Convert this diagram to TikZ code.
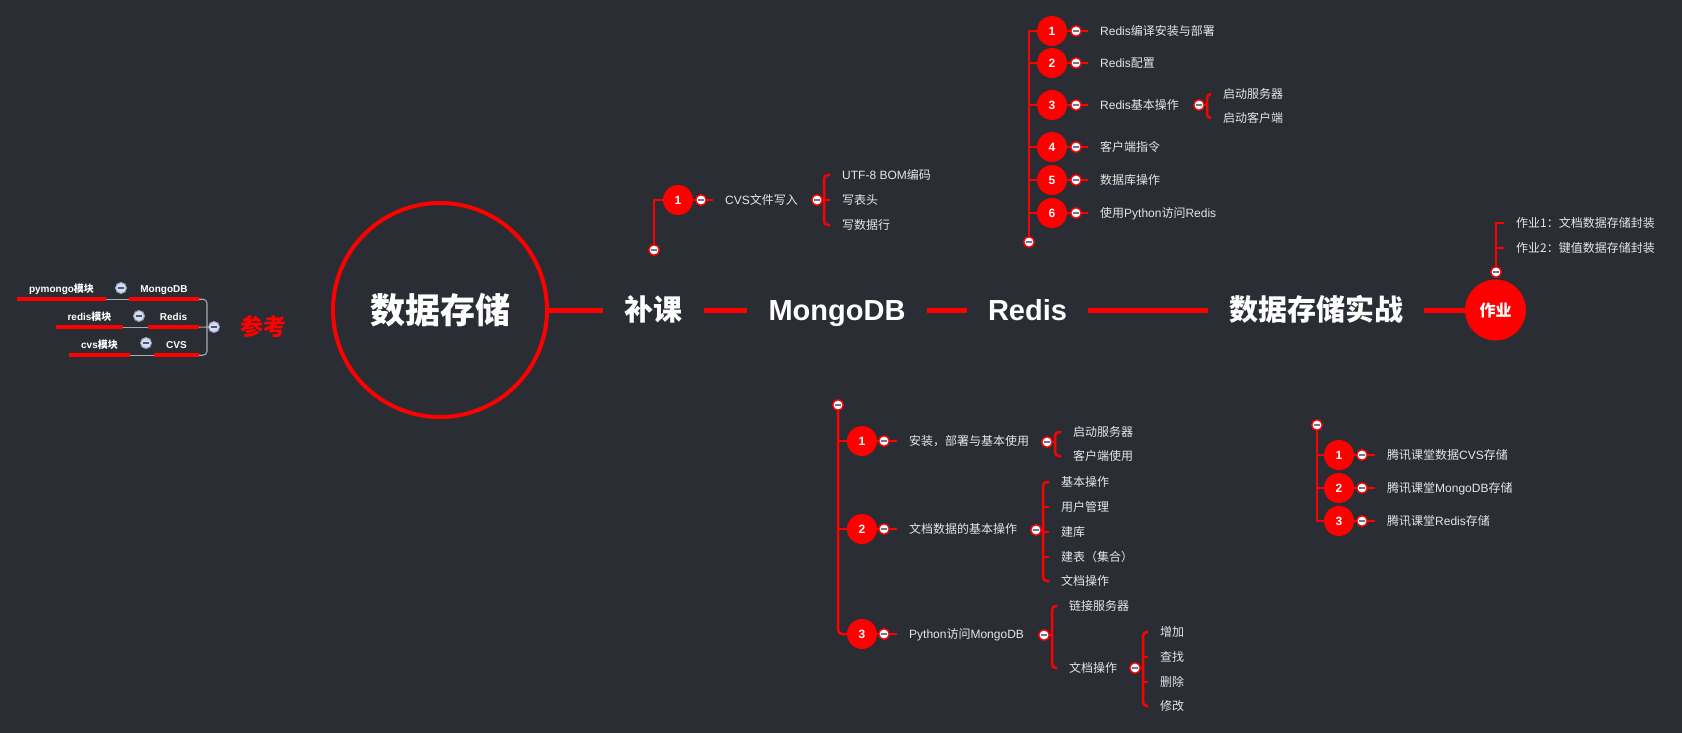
\documentclass[tikz,border=0pt]{standalone}
\usepackage{fontspec}
\setmainfont{Liberation Sans}
\newfontfamily\cjk{Noto Sans CJK SC}
\newcommand\zh[1]{{\cjk #1}}
\definecolor{bg}{RGB}{42,45,51}
\definecolor{mred}{RGB}{255,0,0}
\definecolor{txt}{RGB}{230,230,230}
\definecolor{foldminus}{RGB}{110,120,150}
\definecolor{gfill}{RGB}{214,222,240}
\definecolor{gdraw}{RGB}{150,158,180}
\definecolor{gminus}{RGB}{70,85,130}
\definecolor{glink}{RGB}{170,170,170}
\tikzset{
 fold/.style={circle, draw=mred, fill=white, line width=1.4pt, minimum size=10.5pt, inner sep=0pt,
   path picture={\draw[line width=1.1pt, foldminus] ([xshift=-2.6pt]path picture bounding box.center) -- ([xshift=2.6pt]path picture bounding box.center);}},
 greyfold/.style={circle, draw=gdraw, fill=gfill, line width=1pt, minimum size=11pt, inner sep=0pt,
   path picture={\draw[line width=1.2pt, gminus] ([xshift=-2.8pt]path picture bounding box.center) -- ([xshift=2.8pt]path picture bounding box.center);}},
 numc/.style={circle, fill=mred, minimum size=30pt, inner sep=0pt, text=white, font=\bfseries\fontsize{12}{12}\selectfont},
 leaf/.style={anchor=west, inner sep=0pt, text=txt, font=\fontsize{12}{14}\selectfont, text height=9.6pt, text depth=0.7pt},
 topic/.style={text=white, font=\bfseries\fontsize{29}{30}\selectfont, inner ysep=0pt, inner xsep=21pt, text height=23pt, text depth=2pt},
 lbl/.style={inner sep=0pt, minimum height=20pt, text=white, font=\bfseries\fontsize{10}{10}\selectfont, text height=8pt, text depth=0.6pt},
 br/.style={draw=mred, line width=2.5pt},
 brk/.style={br, rounded corners=4pt},
 mainline/.style={draw=mred, line width=5pt},
 ul/.style={draw=mred, line width=3.5pt},
 gl/.style={draw=glink, line width=1.1pt},
}
\begin{document}
\begin{tikzpicture}[x=1pt,y=-1pt]
\fill[bg] (0,0) rectangle (1682,733);
\useasboundingbox (0,0) rectangle (1682,733);

% ---------- main spine ----------
\node[circle, draw=mred, line width=4pt, minimum size=214pt, inner sep=0pt, text=white,
      font=\bfseries\fontsize{35}{36}\selectfont] (root) at (440,310) {\zh{数据存储}};
\node[topic] (bk) at (653.5,310) {\zh{补课}};
\node[topic] (mg) at (837,310) {MongoDB};
\node[topic] (rd) at (1027.5,310) {Redis};
\node[topic] (sz) at (1316,310) {\zh{数据存储实战}};
\node[circle, fill=mred, minimum size=61pt, inner sep=0pt, text=white,
      font=\bfseries\fontsize{16}{16}\selectfont] (hw) at (1495.5,310) {\zh{作业}};
\draw[mainline] (root.east) -- (bk.west);
\draw[mainline] (bk.east) -- (mg.west);
\draw[mainline] (mg.east) -- (rd.west);
\draw[mainline] (rd.east) -- (sz.west);
\draw[mainline] (sz.east) -- (hw.west);

% ---------- left: reference ----------
\node[lbl, minimum width=89pt] (py) at (61.5,289) {pymongo\zh{模块}};
\node[lbl, minimum width=70pt] (mgo) at (164,289) {MongoDB};
\node[lbl, minimum width=67pt] (rdm) at (89.5,317) {redis\zh{模块}};
\node[lbl, minimum width=51pt] (rds) at (173.5,317) {Redis};
\node[lbl, minimum width=61pt] (cvm) at (99.5,345) {cvs\zh{模块}};
\node[lbl, minimum width=45pt] (cvs) at (176.5,345) {CVS};
\coordinate (lj) at (207,327);
\node[greyfold] (lfold) at (214,327) {};
\node[text=mred, inner sep=0pt, font=\bfseries\fontsize{23}{24}\selectfont] (ck) at (263,327) {\zh{参考}};
\draw[gl] (py.south east) -- (mgo.south west);
\draw[gl] (rdm.south east) -- (rds.south west);
\draw[gl] (cvm.south east) -- (cvs.south west);
\draw[gl, rounded corners=4pt] (mgo.south east) -| (lj) |- (cvs.south east);
\draw[gl] (rds.south east) -- (lfold.west);
\foreach \n in {py,mgo,rdm,rds,cvm,cvs} \draw[ul] (\n.south west) -- (\n.south east);
\node[greyfold] (lf1) at (121,288) {};
\node[greyfold] (lf2) at (139,316) {};
\node[greyfold] (lf3) at (146,343) {};

% ---------- 补课 subtree ----------
\node[fold] (bfold) at (654,250) {};
\node[numc] (b1) at (678,200) {1};
\node[leaf] (bt1) at (725,200) {CVS\zh{文件写入}};
\draw[br] (bfold.north) |- (b1.west);
\draw[br] (b1.east) -- ([xshift=-12pt]bt1.west);
\node[fold] (bf1) at (701,200) {};
\node[leaf] (bc1) at (842,175) {UTF-8 BOM\zh{编码}};
\node[leaf] (bc2) at (842,200) {\zh{写表头}};
\node[leaf] (bc3) at (842,225) {\zh{写数据行}};
\coordinate (bj) at (824,200);
\draw[brk] ([xshift=-12pt]bc1.west) -| (bj) |- ([xshift=-12pt]bc3.west);
\draw[br] (bj) -- ([xshift=-12pt]bc2.west);
\node[fold] (bf2) at (817,200) {};
\draw[br] (bf2.east) -- (bj);

% ---------- Redis subtree ----------
\node[fold] (rfold) at (1029,242) {};
\foreach \i/\y/\t in {1/31/{Redis\zh{编译安装与部署}},2/63/{Redis\zh{配置}},3/105/{Redis\zh{基本操作}},4/147/{\zh{客户端指令}},5/180/{\zh{数据库操作}},6/213/{\zh{使用}Python\zh{访问}Redis}} {
  \node[numc] (r\i) at (1052,\y) {\i};
  \node[leaf] (rt\i) at (1100,\y) {\t};
  \draw[br] (rfold.north) |- (r\i.west);
  \draw[br] (r\i.east) -- ([xshift=-12pt]rt\i.west);
  \node[fold] (rf\i) at (1076,\y) {};
}
\node[leaf] (r3a) at (1223,94) {\zh{启动服务器}};
\node[leaf] (r3b) at (1223,118) {\zh{启动客户端}};
\coordinate (r3j) at (1207,105);
\draw[brk] ([xshift=-12pt]r3a.west) -| (r3j) |- ([xshift=-12pt]r3b.west);
\node[fold] (r3f) at (1199,105) {};
\draw[br] (r3f.east) -- (r3j);

% ---------- 作业 subtree ----------
\node[leaf] (h1) at (1516,223) {\zh{作业1：文档数据存储封装}};
\node[leaf] (h2) at (1516,248) {\zh{作业2：键值数据存储封装}};
\node[fold] (hfold) at (1496,272) {};
\draw[br] (hfold.north) |- ([xshift=-12pt]h1.west);
\draw[br] (hfold.north) |- ([xshift=-12pt]h2.west);

% ---------- MongoDB subtree ----------
\node[fold] (mfold) at (838,405) {};
\node[numc] (m1) at (862,441) {1};
\node[numc] (m2) at (862,529) {2};
\node[numc] (m3) at (862,634) {3};
\draw[br] (mfold.south) |- (m1.west);
\draw[br] (mfold.south) |- (m2.west);
\draw[brk] (mfold.south) |- (m3.west);
\node[leaf] (mt1) at (909,441) {\zh{安装，部署与基本使用}};
\node[leaf] (mt2) at (909,529) {\zh{文档数据的基本操作}};
\node[leaf] (mt3) at (909,634) {Python\zh{访问}MongoDB};
\foreach \i in {1,2,3} {
  \draw[br] (m\i.east) -- ([xshift=-12pt]mt\i.west);
}
\node[fold] (mf1) at (884,441) {};
\node[fold] (mf2) at (884,529) {};
\node[fold] (mf3) at (884,634) {};
% m1 children
\node[leaf] (m1a) at (1073,432) {\zh{启动服务器}};
\node[leaf] (m1b) at (1073,456) {\zh{客户端使用}};
\coordinate (m1j) at (1055,442);
\draw[brk] ([xshift=-12pt]m1a.west) -| (m1j) |- ([xshift=-12pt]m1b.west);
\node[fold] (m1f) at (1047,442) {};
\draw[br] (m1f.east) -- (m1j);
% m2 children
\node[leaf] (m2a) at (1061,482) {\zh{基本操作}};
\node[leaf] (m2b) at (1061,507) {\zh{用户管理}};
\node[leaf] (m2c) at (1061,532) {\zh{建库}};
\node[leaf] (m2d) at (1061,557) {\zh{建表（集合）}};
\node[leaf] (m2e) at (1061,581) {\zh{文档操作}};
\coordinate (m2j) at (1043,530);
\draw[brk] ([xshift=-12pt]m2a.west) -| (m2j) |- ([xshift=-12pt]m2e.west);
\foreach \n in {m2b,m2c,m2d} \draw[br] (m2j |- \n.west) -- ([xshift=-12pt]\n.west);
\node[fold] (m2f) at (1036,530) {};
\draw[br] (m2f.east) -- (m2j);
% m3 children
\node[leaf] (m3a) at (1069,606) {\zh{链接服务器}};
\node[leaf] (m3b) at (1069,668) {\zh{文档操作}};
\coordinate (m3j) at (1052,635);
\draw[brk] ([xshift=-12pt]m3a.west) -| (m3j) |- ([xshift=-12pt]m3b.west);
\node[fold] (m3f) at (1044,635) {};
\draw[br] (m3f.east) -- (m3j);
% 文档操作 children
\node[leaf] (d1) at (1160,632) {\zh{增加}};
\node[leaf] (d2) at (1160,657) {\zh{查找}};
\node[leaf] (d3) at (1160,682) {\zh{删除}};
\node[leaf] (d4) at (1160,706) {\zh{修改}};
\coordinate (dj) at (1143,668);
\draw[brk] ([xshift=-12pt]d1.west) -| (dj) |- ([xshift=-12pt]d4.west);
\foreach \n in {d2,d3} \draw[br] (dj |- \n.west) -- ([xshift=-12pt]\n.west);
\node[fold] (df) at (1135,668) {};
\draw[br] (df.east) -- (dj);

% ---------- 数据存储实战 subtree ----------
\node[fold] (sfold) at (1317,425) {};
\foreach \i/\y/\t in {1/455/{\zh{腾讯课堂数据}CVS\zh{存储}},2/488/{\zh{腾讯课堂}MongoDB\zh{存储}},3/521/{\zh{腾讯课堂}Redis\zh{存储}}} {
  \node[numc] (s\i) at (1339,\y) {\i};
  \node[leaf] (st\i) at (1387,\y) {\t};
  \draw[br] (sfold.south) |- (s\i.west);
  \draw[br] (s\i.east) -- ([xshift=-12pt]st\i.west);
  \node[fold] (sf\i) at (1362,\y) {};
}
\end{tikzpicture}
\end{document}
